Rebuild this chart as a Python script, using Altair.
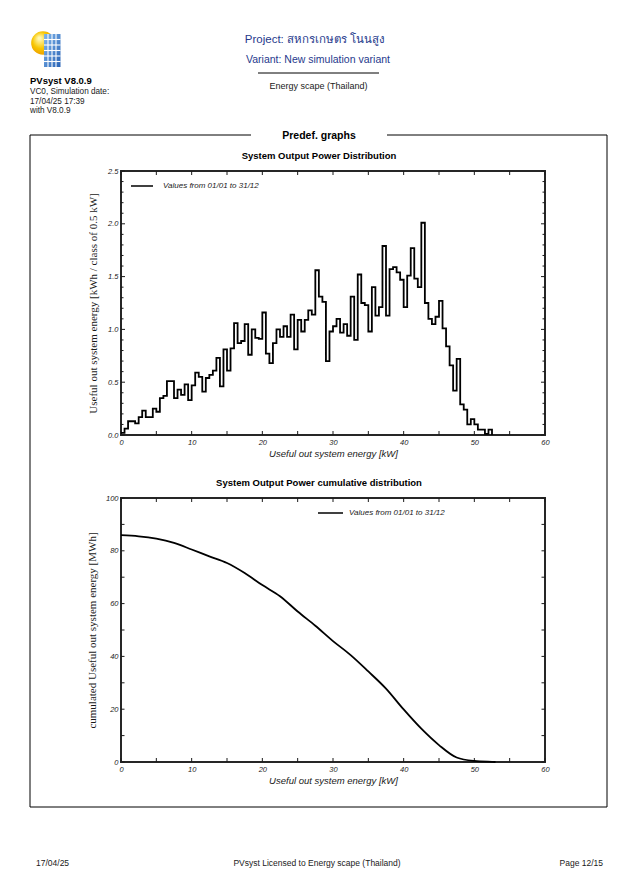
import altair as alt
import pandas as pd

SANS = "Liberation Sans"
SERIF = "Liberation Serif"
INK = "#1a1a1a"
BLUE_TXT = "#26398c"

# ---------------- data ----------------
# Energy per 0.5 kW power class (bins starting at 0, 0.5, 1.0, ... kW)
hist_values = [
    0.02, 0.06, 0.13, 0.13, 0.11, 0.17, 0.23, 0.17, 0.17, 0.25,
    0.22, 0.35, 0.37, 0.51, 0.51, 0.35, 0.43, 0.38, 0.48, 0.33,
    0.47, 0.59, 0.55, 0.41, 0.54, 0.57, 0.61, 0.73, 0.46, 0.81,
    0.61, 0.82, 1.06, 0.87, 0.89, 1.05, 0.76, 1.00, 0.92, 0.91,
    1.16, 0.77, 0.68, 0.87, 1.00, 0.93, 1.03, 0.93, 1.14, 0.81,
    1.09, 0.98, 1.09, 1.18, 1.14, 1.56, 1.31, 1.26, 0.70, 0.98,
    1.03, 1.10, 0.97, 1.05, 0.94, 1.31, 0.90, 1.52, 1.25, 1.23,
    0.98, 1.40, 1.13, 1.21, 1.79, 1.13, 1.57, 1.59, 1.54, 1.47,
    1.21, 1.51, 1.77, 1.48, 1.40, 2.01, 1.25, 1.10, 1.05, 1.12,
    1.27, 1.01, 0.84, 0.66, 0.42, 0.72, 0.29, 0.24, 0.10, 0.15,
    0.10, 0.05, 0.05, 0.01, 0.05, 0.0,
]
bin_width_kw = 0.5
bin_start_kw = [i * bin_width_kw for i in range(len(hist_values))]

cum_kw = [0, 2.5, 5, 7.5, 10, 12.5, 15, 17.5, 20, 22.5, 25, 27.5, 30,
          32.5, 35, 37.5, 40, 42.5, 45, 47.5, 50, 52.5, 53]
cum_mwh = [85.9, 85.5, 84.6, 83.0, 80.5, 77.9, 75.4, 71.6, 67.0, 62.8, 57.0,
           51.6, 45.8, 40.5, 34.3, 27.8, 19.9, 12.6, 6.4, 1.7, 0.4, 0.05, 0.0]

x_tick_values = [0, 5, 10, 15, 20, 25, 30, 35, 40, 45, 50, 55, 60]
x_label_values = [0, 10, 20, 30, 40, 50, 60]
hist_y_major = [0.0, 0.5, 1.0, 1.5, 2.0, 2.5]
hist_y_minor = [0.1, 0.2, 0.3, 0.4, 0.6, 0.7, 0.8, 0.9, 1.1, 1.2, 1.3, 1.4,
                1.6, 1.7, 1.8, 1.9, 2.1, 2.2, 2.3, 2.4]
cum_y_ticks = [0, 10, 20, 30, 40, 50, 60, 70, 80, 90, 100]
cum_y_labels = [0, 20, 40, 60, 80, 100]

series_label = "Values from 01/01 to 31/12"
hist_title = "System Output Power Distribution"
cum_title = "System Output Power cumulative distribution"

# ---------------- layout ----------------
PW, PH = 424, 264          # plot areas
HX, HY = 120, 170          # page position of the first plot area
CX, CY = 120, 497          # page position of the second plot area

AX = dict(ticks=False, tickSize=0, domain=False, grid=False,
          labelFont=SANS, labelFontSize=7.5, labelFontStyle="italic",
          labelColor=INK, labelPadding=3, labelFlush=False, labelOverlap=False,
          titleColor=INK, titleFontWeight="normal")


def X(field):
    return alt.X(f"{field}:Q",
                 scale=alt.Scale(domain=[0, 60], nice=False, zero=False),
                 axis=alt.Axis(values=x_label_values, format="d",
                               title="Useful out system energy [kW]",
                               titleFont=SANS, titleFontStyle="italic",
                               titleFontSize=9.5, titlePadding=3, **AX))


def Yh(field):
    return alt.Y(f"{field}:Q",
                 scale=alt.Scale(domain=[0, 2.5], nice=False, zero=True),
                 axis=alt.Axis(values=hist_y_major, format=".1f",
                               title="Useful out system energy [kWh / class of 0.5 kW]",
                               titleFont=SERIF, titleFontSize=11, titlePadding=9,
                               **AX))


def Yc(field):
    return alt.Y(f"{field}:Q",
                 scale=alt.Scale(domain=[0, 100], nice=False, zero=True),
                 axis=alt.Axis(values=cum_y_labels, format="d",
                               title="cumulated Useful out system energy [MWh]",
                               titleFont=SERIF, titleFontSize=11, titlePadding=8,
                               **AX))


ONE = pd.DataFrame({"_": [0]})


def txt(s, px, py, size, ox, oy, weight="normal", style="normal",
        color=INK, align="left", font=SANS):
    return alt.Chart(ONE).mark_text(
        text=s, font=font, fontSize=size, fontWeight=weight, fontStyle=style,
        color=color, align=align, baseline="middle"
    ).encode(x=alt.value(px - ox), y=alt.value(py - oy))


def seg(px1, py1, px2, py2, ox, oy, color=INK, width=1.0):
    return alt.Chart(ONE).mark_rule(color=color, strokeWidth=width).encode(
        x=alt.value(px1 - ox), x2=alt.value(px2 - ox),
        y=alt.value(py1 - oy), y2=alt.value(py2 - oy))


def tick_layers(yenc, y_major, y_minor, major_len, minor_len):
    layers = []
    xt = pd.DataFrame({"kW": x_tick_values})
    layers.append(alt.Chart(xt).mark_rule(color=INK, strokeWidth=1).encode(
        x=X("kW"), y=alt.value(0), y2=alt.value(4)))
    layers.append(alt.Chart(xt).mark_rule(color=INK, strokeWidth=1).encode(
        x=X("kW"), y=alt.value(PH), y2=alt.value(PH - 4)))
    for vals, ln in ((y_major, major_len), (y_minor, minor_len)):
        if not vals:
            continue
        yt = pd.DataFrame({"E": vals})
        layers.append(alt.Chart(yt).mark_rule(color=INK, strokeWidth=1).encode(
            y=yenc("E"), x=alt.value(0), x2=alt.value(ln)))
        layers.append(alt.Chart(yt).mark_rule(color=INK, strokeWidth=1).encode(
            y=yenc("E"), x=alt.value(PW), x2=alt.value(PW - ln)))
    return layers


# ---------------- page decorations (attached to the first panel) ----------------
deco = []
# anchor at the page's top-left (keeps the page layout fixed)
deco.append(alt.Chart(ONE).mark_rect(color="white").encode(
    x=alt.value(8 - HX), x2=alt.value(9 - HX), y=alt.value(8 - HY), y2=alt.value(9 - HY)))

# logo: sun + solar panel
sun_fill = alt.RadialGradient(
    gradient="radial", x1=0.35, y1=0.3, r1=0.05, x2=0.45, y2=0.45, r2=0.6,
    stops=[alt.GradientStop(color="#fff7b0", offset=0),
           alt.GradientStop(color="#f7c600", offset=0.55),
           alt.GradientStop(color="#ec9a00", offset=1)])
deco.append(alt.Chart(ONE).mark_circle(fill=sun_fill, size=560, opacity=1).encode(
    x=alt.value(42 - HX), y=alt.value(42 - HY)))
panel_fill = alt.LinearGradient(
    gradient="linear", x1=0, y1=0, x2=1, y2=1,
    stops=[alt.GradientStop(color="#7fb6ec", offset=0),
           alt.GradientStop(color="#2a63b5", offset=1)])
deco.append(alt.Chart(ONE).mark_rect(fill=panel_fill).encode(
    x=alt.value(43 - HX), x2=alt.value(59.5 - HX),
    y=alt.value(33 - HY), y2=alt.value(66 - HY)))
for gx in (47, 51, 55):
    deco.append(seg(gx, 33, gx, 66, HX, HY, color="white", width=1.1))
for gy in (38.5, 44, 49.5, 55, 60.5):
    deco.append(seg(43, gy, 59.5, gy, HX, HY, color="white", width=1.1))

deco += [
    txt("PVsyst V8.0.9", 29, 80, 9.5, HX, HY, weight="bold", color="black"),
    txt("VC0, Simulation date:", 29, 91, 8.2, HX, HY),
    txt("17/04/25 17:39", 29, 100.5, 8.2, HX, HY),
    txt("with V8.0.9", 29, 110, 8.2, HX, HY),
    txt("Project: สหกรเกษตร โนนสูง", 314, 39, 11.5, HX, HY, color=BLUE_TXT, align="center"),
    txt("Variant: New simulation variant", 317, 59, 10.5, HX, HY, color=BLUE_TXT, align="center"),
    seg(257, 72, 378, 72, HX, HY, color="black", width=1),
    txt("Energy scape (Thailand)", 317.5, 85, 9, HX, HY, align="center"),
    # frame around the graphs
    seg(29, 134, 29, 806, HX, HY, color="black", width=1),
    seg(606, 134, 606, 806, HX, HY, color="black", width=1),
    seg(29, 806, 606, 806, HX, HY, color="black", width=1),
    seg(29, 134, 250, 134, HX, HY, color="black", width=1),
    seg(386, 134, 606, 134, HX, HY, color="black", width=1),
    txt("Predef. graphs", 318, 135, 10.5, HX, HY, weight="bold", color="black", align="center"),
    # footer
    txt("17/04/25", 35, 862, 8.5, HX, HY),
    txt("PVsyst Licensed to  Energy scape (Thailand)", 316, 862, 8.5, HX, HY, align="center"),
    txt("Page 12/15", 602, 862, 8.5, HX, HY, align="right"),
    # title and legend of the first graph
    txt(hist_title, 318, 155, 9.5, HX, HY, weight="bold", color="black", align="center"),
    seg(130, 185, 152, 185, HX, HY, color="black", width=1.5),
    txt(series_label, 162, 185, 8, HX, HY, style="italic"),
]

# ---------------- first graph: distribution ----------------
hist_df = pd.DataFrame({"kW": bin_start_kw, "E": hist_values})
hist_line = alt.Chart(hist_df).mark_line(
    interpolate="step-after", color="black", strokeWidth=1.8
).encode(x=X("kW"), y=Yh("E"))

hist = alt.layer(
    *deco, *tick_layers(Yh, hist_y_major, hist_y_minor, 4, 2.5), hist_line
).properties(width=PW, height=PH)

# ---------------- second graph: cumulative distribution ----------------
cum_df = pd.DataFrame({"kW": cum_kw, "E": cum_mwh})
cum_line = alt.Chart(cum_df).mark_line(
    interpolate="monotone", color="black", strokeWidth=1.8
).encode(x=X("kW"), y=Yc("E"))

cum_deco = [
    txt(cum_title, 318, 482, 9.5, CX, CY, weight="bold", color="black", align="center"),
    seg(317, 512, 342, 512, CX, CY, color="black", width=1.5),
    txt(series_label, 348, 512, 8, CX, CY, style="italic"),
]

cum = alt.layer(
    *tick_layers(Yc, cum_y_ticks, [], 3.5, 2.5), *cum_deco, cum_line
).properties(width=PW, height=PH)

chart = alt.vconcat(hist, cum, spacing=CY - HY - PH, bounds="flush", padding=0
                    ).configure_view(stroke="#262626", strokeWidth=2)

chart.save("out.html", embed_options={"renderer": "svg", "actions": False})
